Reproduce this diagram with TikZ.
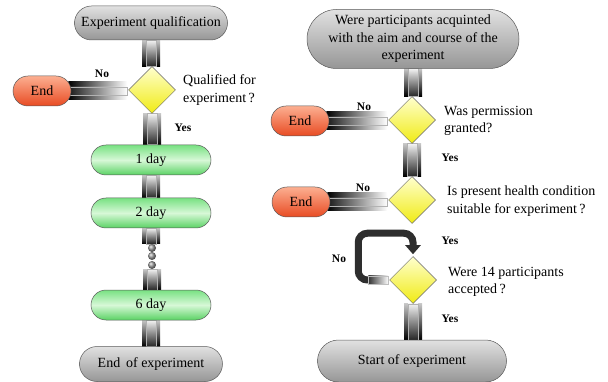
\documentclass[tikz,border=0pt]{standalone}
\usepackage{fontspec}
\setmainfont{Liberation Serif}
\usetikzlibrary{shapes.geometric,shapes.misc,calc,arrows.meta,backgrounds}
\definecolor{grayT}{RGB}{225,225,225}
\definecolor{grayB}{RGB}{150,150,150}
\definecolor{greenT}{RGB}{120,225,130}
\definecolor{greenM}{RGB}{215,248,215}
\definecolor{greenB}{RGB}{90,210,100}
\definecolor{orT}{RGB}{252,175,145}
\definecolor{orB}{RGB}{232,75,35}
\definecolor{yelT}{RGB}{255,255,205}
\definecolor{yelB}{RGB}{240,235,20}
\newcommand\pipev[2]{%
  \shade[top color=gray!45, bottom color=black] ($(#1.south)+(-9,0)$) rectangle ($(#2.north -| #1.south)+(9,0)$);
  \shade[top color=gray!10, bottom color=black!85, draw=gray!60, line width=0.5pt] ($(#1.south)+(-5,0)$) rectangle ($(#2.north -| #1.south)+(5,0)$);}
\newcommand\pipeh[2]{%
  \shade[left color=black, right color=white] ($(#1.east)+(-3,-9)$) rectangle ($(#2.west |- #1.east)+(-1,9)$);
  \shade[left color=black!90, right color=white, draw=gray!60, line width=0.5pt] ($(#1.east)+(-3,-4)$) rectangle ($(#2.west |- #1.east)+(-1,4)$);}
\begin{document}
\begin{tikzpicture}[x=1pt,y=-1pt,
  txt/.style={font=\fontsize{14}{17.5}\selectfont},
  lbl/.style={font=\fontsize{11.5}{13}\selectfont\bfseries, inner sep=0pt},
  pill/.style={rounded rectangle, draw=gray!70!black, line width=0.5pt, inner sep=1pt, txt, align=center},
  graypill/.style={pill, top color=grayT, bottom color=grayB},
  greenpill/.style={pill, top color=greenT, bottom color=greenB, middle color=greenM, minimum width=122, minimum height=30},
  endpill/.style={pill, top color=orT, bottom color=orB, minimum width=60, minimum height=30},
  dec/.style={diamond, aspect=1, minimum width=47, minimum height=47, inner sep=0pt, draw=gray!80!black, line width=0.5pt, top color=yelT, bottom color=yelB},
  dot/.style={circle, inner sep=0pt, minimum size=8, ball color=gray!80}]
\useasboundingbox (0,0) rectangle (608,382);
% left column
\node[graypill, minimum width=155, minimum height=34] (qual) at (151,23) {Experiment qualification};
\node[dec] (d1) at (152,90) {};
\node[endpill] (end1) at (42,91) {End};
\node[txt, anchor=west, align=left, inner sep=0pt] (q1) at (183,90) {Qualified for\\experiment\,?};
\node[lbl] (no1) at (102,74) {No};
\node[lbl] (yes1) at (183,128) {Yes};
\node[greenpill] (day1) at (151,160) {1 day};
\node[greenpill] (day2) at (151,213) {2 day};
\node[dot] (dot1) at (152,248) {};
\node[dot] (dot2) at (152,256) {};
\node[dot] (dot3) at (152,265) {};
\node[greenpill] (day6) at (151,305) {6 day};
\node[graypill, minimum width=145, minimum height=35] (endexp) at (151,364) {End \,of experiment};
% right column
\node[graypill, minimum width=214, minimum height=59] (top) at (413,39) {Were participants acquinted\\with the aim and course of the\\experiment};
\node[dec] (d2) at (412,120) {};
\node[endpill] (end2) at (300,121) {End};
\node[txt, anchor=west, align=left, inner sep=0pt] (q2) at (444,121) {Was permission\\granted?};
\node[lbl] (no2) at (364,107) {No};
\node[lbl] (yes2) at (450,158) {Yes};
\node[dec] (d3) at (412,200) {};
\node[endpill] (end3) at (301,202) {End};
\node[txt, anchor=west, align=left, inner sep=0pt] (q3) at (447,201) {Is present health condition\\suitable for experiment\,?};
\node[lbl] (no3) at (363,188) {No};
\node[lbl] (yes3) at (450,241) {Yes};
\node[dec] (d4) at (413,280) {};
\node[txt, anchor=west, align=left, inner sep=0pt] (q4) at (448,282) {Were 14 participants\\accepted\,?};
\node[lbl] (no4) at (339,259) {No};
\node[lbl] (yes4) at (450,319) {Yes};
\node[graypill, minimum width=191, minimum height=42] (start) at (412,361) {Start of experiment};
\begin{pgfonlayer}{background}
\pipev{qual}{d1}
\pipev{d1}{day1}
\pipev{day1}{day2}
\pipev{day2}{dot1}
\pipev{dot3}{day6}
\pipev{day6}{endexp}
\pipeh{end1}{d1}
\pipev{top}{d2}
\pipev{d2}{d3}
\pipev{d4}{start}
\pipeh{end2}{d2}
\pipeh{end3}{d3}
\draw[line width=7pt, black!82, rounded corners=9pt, -{Triangle[width=15pt,length=9pt]}]
  ($(d4.west)+(-19,0)$) -- ($(d4.west)+(-31,0)$) |- ($(d4.north)+(0,-23)$) -- ($(d4.north)+(0,-2)$);
\shade[left color=black!80, right color=white, draw=gray!50, line width=0.4pt] ($(d4.west)+(-21,-4)$) rectangle ($(d4.west)+(-1,4)$);
\end{pgfonlayer}
\end{tikzpicture}
\end{document}
